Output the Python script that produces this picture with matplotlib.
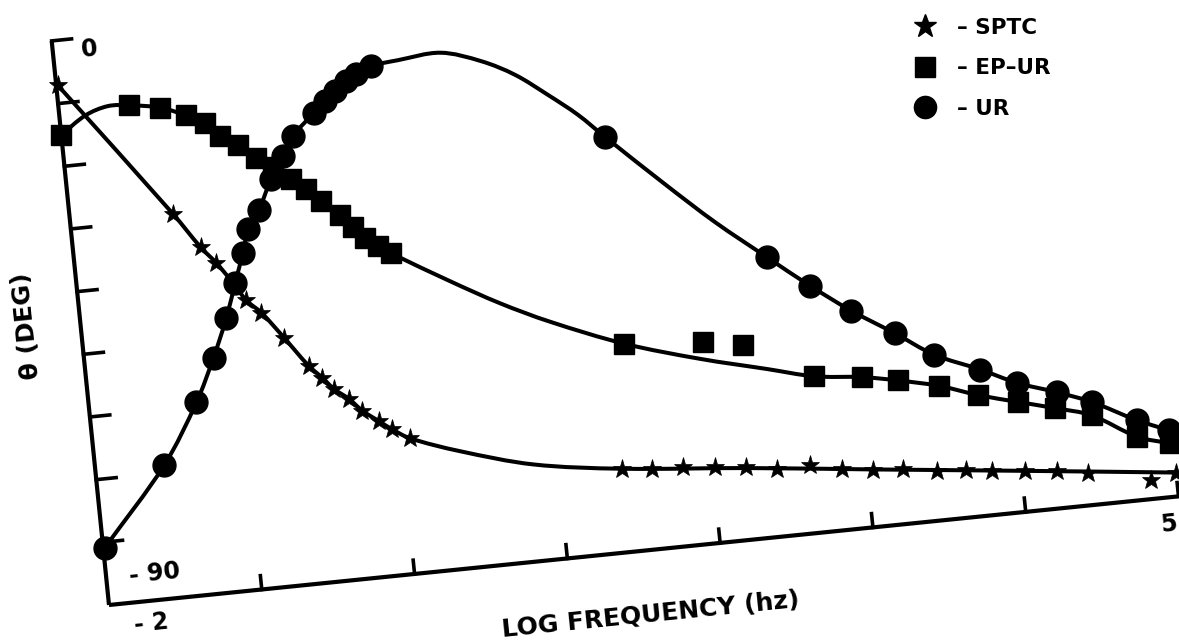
import numpy as np
import matplotlib
matplotlib.use("Agg")
import matplotlib.pyplot as plt
from matplotlib.transforms import Affine2D
from matplotlib.lines import Line2D
from matplotlib.path import Path
from matplotlib.patches import PathPatch

# ---------------- data (log10 frequency, phase in degrees) ----------------
sptc_lx = [-1.99, -1.33, -1.17, -1.08, -0.98, -0.91, -0.82, -0.69, -0.55, -0.47,
           -0.40, -0.31, -0.23, -0.13, -0.05, 0.06,
           1.41, 1.61, 1.81, 2.02, 2.22, 2.42, 2.63, 2.84, 3.04, 3.23,
           3.45, 3.64, 3.81, 4.02, 4.23, 4.43, 4.83, 5.00]
sptc_th = [-7.1, -29.2, -35.0, -37.7, -41.3, -44.1, -46.3, -50.6, -55.4, -57.5,
           -59.5, -61.3, -63.4, -65.3, -66.8, -68.5,
           -76.7, -77.2, -77.4, -77.9, -78.5, -79.3, -79.2, -80.3, -80.9, -81.3,
           -82.1, -82.4, -83.0, -83.5, -84.1, -84.9, -87.0, -86.3]
SPTC_ON_CURVE = 16          # the first stars lie on the drawn curve
sptc_fit_lx = [0.37, 0.84, 1.41, 2.22, 3.04, 4.02, 5.00]
sptc_fit_th = [-71.3, -74.6, -76.7, -78.6, -80.85, -83.5, -86.2]

ep_lx = [-2.00, -1.54, -1.34, -1.18, -1.06, -0.97, -0.86, -0.75, -0.65, -0.54,
         -0.45, -0.36, -0.25, -0.17, -0.10, -0.02, 0.06,
         1.51, 2.72, 3.03, 3.26, 3.52, 3.77, 4.02, 4.26, 4.49, 4.77, 4.98]
ep_th = [-15.0, -11.4, -12.3, -13.9, -15.5, -17.8, -19.5, -21.7, -23.4, -25.6,
         -27.4, -29.6, -32.1, -34.2, -36.2, -37.7, -39.0,
         -57.0, -65.2, -66.1, -67.2, -68.7, -70.8, -72.5, -74.1, -75.8, -79.9, -81.5]
ep_stray_lx = [2.02, 2.28]
ep_stray_th = [-58.0, -59.1]
ep_fit_lx = [-1.83, -1.68, 0.42, 0.73, 1.04, 1.99, 2.42]
ep_fit_th = [-12.3, -11.2, -44.3, -48.6, -52.3, -60.6, -63.3]

ur_lx = [-1.99, -1.55, -1.30, -1.16, -1.05, -0.97, -0.90, -0.85, -0.77, -0.67,
         -0.58, -0.50, -0.35, -0.27, -0.20, -0.12, -0.05, 0.05,
         1.52, 2.49, 2.75, 3.00, 3.27, 3.51, 3.80, 4.03, 4.28, 4.50, 4.78, 4.98]
ur_th = [-80.9, -68.8, -59.4, -52.6, -46.5, -41.1, -36.5, -32.8, -30.1, -25.3,
         -21.9, -18.9, -15.6, -13.9, -12.5, -11.1, -10.1, -9.1,
         -24.0, -45.6, -50.8, -55.4, -59.7, -63.7, -66.8, -69.5, -71.6, -73.7, -77.3, -79.4]
ur_fit_lx = [0.23, 0.51, 0.77, 0.98, 1.18, 1.36, 1.88, 2.18]
ur_fit_th = [-8.6, -8.1, -10.1, -12.8, -16.5, -20.1, -32.5, -39.3]

x_ticks = [-1, 0, 1, 2, 3, 4, 5]
y_ticks = [0, -10, -20, -30, -40, -50, -60, -70, -80]
labels = ["\u2013 SPTC", "\u2013 EP\u2013UR", "\u2013 UR"]

# ---------------- figure ----------------
W, H = 1179, 641
fig = plt.figure(figsize=(W / 100, H / 100), dpi=100)
ax = fig.add_axes([109 / W, 36 / H, 1075 / W, 567 / H])
ax.set_xlim(-2, 5)
ax.set_ylim(-90, 0)
ax.axis("off")

# the original page is printed slightly rotated
ROT = 5.8
pivot = ax.transData.transform((-2, -90))
T = ax.transData + Affine2D().rotate_deg_around(pivot[0], pivot[1], ROT)

K = dict(transform=T, clip_on=False, color="black")
FONT = dict(family="DejaVu Sans", fontweight="bold")


def merged(a_lx, a_th, b_lx, b_th):
    lx = np.concatenate([a_lx, b_lx])
    th = np.concatenate([a_th, b_th])
    o = np.argsort(lx)
    return lx[o], th[o]


def smooth_path(lx, th):
    """Cubic Bezier path through the read points (chord-length Catmull-Rom tangents)."""
    P = np.column_stack([lx, th]).astype(float)
    S = P * np.array([153.5, 6.3])          # chord lengths in screen-like units
    d = np.hypot(*np.diff(S, axis=0).T)
    t = np.concatenate([[0], np.cumsum(d)])
    n = len(P)
    M = np.zeros_like(P)
    for i in range(n):
        a, b = max(i - 1, 0), min(i + 1, n - 1)
        M[i] = (P[b] - P[a]) / (t[b] - t[a])
    verts, codes = [P[0]], [Path.MOVETO]
    for i in range(n - 1):
        h = t[i + 1] - t[i]
        verts += [P[i] + M[i] * h / 3.0, P[i + 1] - M[i + 1] * h / 3.0, P[i + 1]]
        codes += [Path.CURVE4] * 3
    return Path(verts, codes)


LW = 2.9
curves = [merged(sptc_lx[:SPTC_ON_CURVE], sptc_th[:SPTC_ON_CURVE], sptc_fit_lx, sptc_fit_th),
          merged(ep_lx, ep_th, ep_fit_lx, ep_fit_th),
          merged(ur_lx, ur_th, ur_fit_lx, ur_fit_th)]
for lx, th in curves:
    ax.add_patch(PathPatch(smooth_path(lx, th), fill=False, lw=LW, edgecolor="black",
                           capstyle="round", joinstyle="round", transform=T,
                           clip_on=False, zorder=2))

# markers
ax.plot(sptc_lx, sptc_th, ls="none", marker="*", ms=14, mew=0.5, zorder=3, **K)
ax.plot(ep_lx, ep_th, ls="none", marker="s", ms=14.5, zorder=3, **K)
ax.plot(ep_stray_lx, ep_stray_th, ls="none", marker="s", ms=14.5, zorder=3, **K)
ax.plot(ur_lx, ur_th, ls="none", marker="o", ms=16.5, zorder=4, **K)

# axes lines and ticks
ax.plot([-2, 5], [-90, -90], lw=3, solid_capstyle="butt", zorder=1, **K)
ax.plot([-2, -2], [-90, 0], lw=3, solid_capstyle="butt", zorder=1, **K)
for t in y_ticks:
    ax.plot([-2, -1.87], [t, t], lw=2.6, zorder=1, **K)
for t in x_ticks:
    ax.plot([t, t], [-90, -87.8], lw=2.6, zorder=1, **K)

# tick labels
TXT = dict(ha="center", va="center", rotation=ROT, rotation_mode="anchor", transform=T)
ax.text(-1.76, -1.9, "0", fontsize=17, **TXT, **FONT)
ax.text(-1.68, -85.7, "- 90", fontsize=17, **TXT, **FONT)
ax.text(-1.74, -93.5, "- 2", fontsize=17, **TXT, **FONT)
ax.text(4.92, -94.2, "5", fontsize=17, **TXT, **FONT)

# axis titles
ax.text(1.50, -100.2, "LOG FREQUENCY (hz)", fontsize=18, **TXT, **FONT)
ax.text(-2.35, -44.6, "\u03b8 (DEG)", fontsize=18, ha="center", va="center",
        rotation=90 + ROT, rotation_mode="anchor", transform=T, **FONT)

# legend
handles = [Line2D([], [], ls="none", marker="*", ms=17, color="black"),
           Line2D([], [], ls="none", marker="s", ms=15, color="black"),
           Line2D([], [], ls="none", marker="o", ms=16, color="black")]
fig.legend(handles, labels, loc="upper left", bbox_to_anchor=(914 / W, 1 - 18 / H),
           frameon=False, borderaxespad=0, borderpad=0, handlelength=1.0,
           handletextpad=1.0, labelspacing=0.95,
           prop=dict(family="DejaVu Sans", weight="bold", size=15.5))

fig.savefig("out.png", dpi=100, facecolor="white")
